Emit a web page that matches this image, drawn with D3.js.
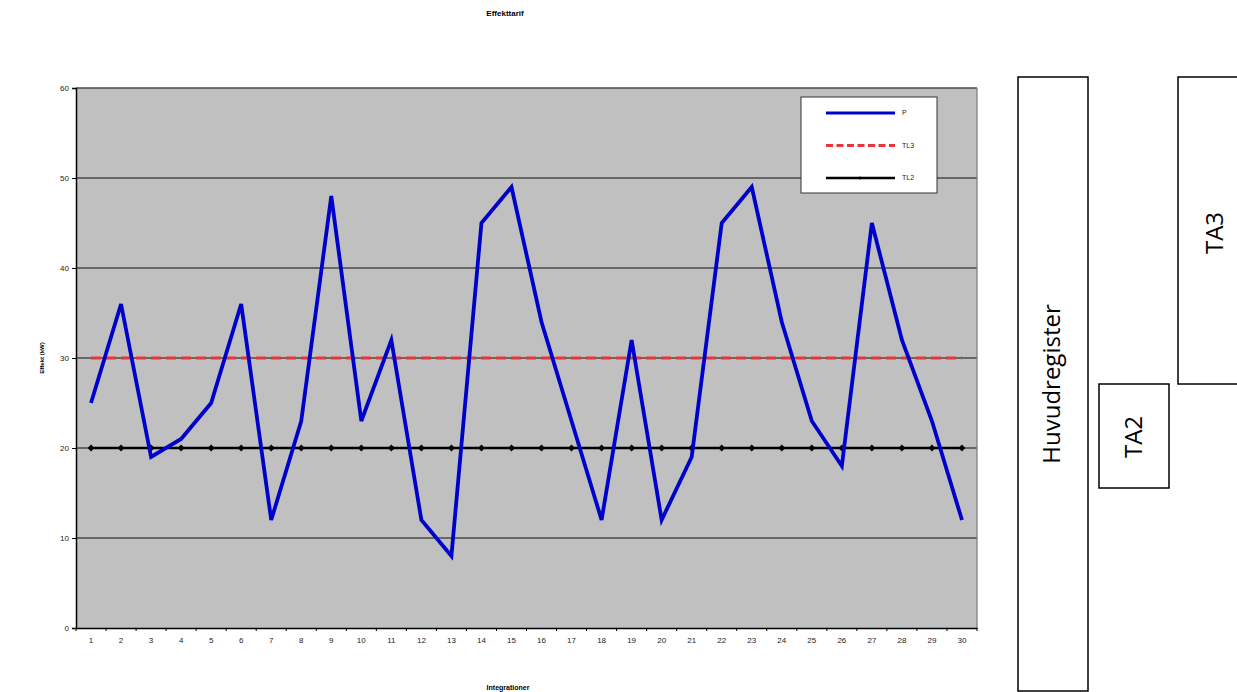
<!DOCTYPE html>
<html>
<head>
<meta charset="utf-8">
<script src="https://cdn.jsdelivr.net/npm/d3@7"></script>
<style>
  html, body { margin: 0; padding: 0; background: #fff; }
  svg { display: block; }
</style>
</head>
<body>
<svg id="chart" width="1237" height="692"></svg>
<script>
// Integration periods 1..30
const categories = ["1","2","3","4","5","6","7","8","9","10","11","12","13","14","15",
                    "16","17","18","19","20","21","22","23","24","25","26","27","28","29","30"];
// Measured power per period (kW)
const pValues   = [25,36,19,21,25,36,12,23,48,23,32,12,8,45,49,34,23,12,32,12,19,45,49,34,23,18,45,32,23,12];
// Tariff levels
const tl3Values = [30,30,30,30,30,30,30,30,30,30,30,30,30,30,30,30,30,30,30,30,30,30,30,30,30,30,30,30,30,30];
const tl2Values = [20,20,20,20,20,20,20,20,20,20,20,20,20,20,20,20,20,20,20,20,20,20,20,20,20,20,20,20,20,20];
const yTicks    = [0,10,20,30,40,50,60];
const seriesNames = ["P","TL3","TL2"];
const registerLabels = ["Huvudregister","TA2","TA3"];

const svg = d3.select("#chart");
const plot = { left: 76, right: 977, top: 88, bottom: 628 };

const x = d3.scaleBand().domain(categories).range([plot.left, plot.right]).padding(0);
const y = d3.scaleLinear().domain([0, 60]).range([plot.bottom, plot.top]);
const cx = d => x(d) + x.bandwidth() / 2;

// plot background
svg.append("rect")
  .attr("x", plot.left).attr("y", plot.top)
  .attr("width", plot.right - plot.left).attr("height", plot.bottom - plot.top)
  .attr("fill", "#c0c0c0");

// horizontal gridlines
svg.append("g").selectAll("line")
  .data(yTicks.filter(t => t > 0))
  .join("line")
  .attr("x1", plot.left).attr("x2", plot.right)
  .attr("y1", d => y(d)).attr("y2", d => y(d))
  .attr("stroke", "#4a4a4a").attr("stroke-width", 1.3);

// right border of plot area
svg.append("line")
  .attr("x1", plot.right).attr("x2", plot.right)
  .attr("y1", plot.top).attr("y2", plot.bottom)
  .attr("stroke", "#808080").attr("stroke-width", 1.3);

const fontAxis = "'Liberation Sans', Arial, sans-serif";

// y axis
const yAxis = svg.append("g")
  .attr("transform", `translate(${plot.left},0)`)
  .call(d3.axisLeft(y).tickValues(yTicks).tickSize(4).tickPadding(3));
yAxis.select(".domain").attr("stroke", "#000").attr("stroke-width", 1.5);
yAxis.selectAll(".tick line").attr("stroke", "#000");
yAxis.selectAll("text").attr("font-family", fontAxis).attr("font-size", 8).attr("fill", "#222");

// x axis with ticks on category boundaries
const xAxis = svg.append("g")
  .attr("transform", `translate(0,${plot.bottom})`)
  .call(d3.axisBottom(x).tickSize(0).tickPadding(9));
xAxis.select(".domain").attr("stroke", "#000").attr("stroke-width", 1.5);
xAxis.selectAll("text").attr("font-family", fontAxis).attr("font-size", 8).attr("fill", "#222");
svg.append("g").selectAll("line")
  .data(categories.concat(["end"]))
  .join("line")
  .attr("x1", (d, i) => plot.left + i * x.bandwidth())
  .attr("x2", (d, i) => plot.left + i * x.bandwidth())
  .attr("y1", plot.bottom).attr("y2", plot.bottom + 3)
  .attr("stroke", "#000").attr("stroke-width", 1);

// series lines
const line = vals => d3.line().x((d, i) => cx(categories[i])).y(d => y(d))(vals);

svg.append("path").attr("d", line(tl2Values))
  .attr("fill", "none").attr("stroke", "#000").attr("stroke-width", 2.5);
svg.append("g").selectAll("path")
  .data(tl2Values)
  .join("path")
  .attr("d", d3.symbol(d3.symbolDiamond2, 30))
  .attr("transform", (d, i) => `translate(${cx(categories[i])},${y(d)})`)
  .attr("fill", "#000");

svg.append("path").attr("d", line(tl3Values))
  .attr("fill", "none").attr("stroke", "#e6353b").attr("stroke-width", 3)
  .attr("stroke-dasharray", "10,5");

svg.append("path").attr("d", line(pValues))
  .attr("fill", "none").attr("stroke", "#0000cc").attr("stroke-width", 3.8)
  .attr("stroke-linejoin", "miter");

// legend
const legend = svg.append("g");
legend.append("rect")
  .attr("x", 801).attr("y", 97).attr("width", 136).attr("height", 96)
  .attr("fill", "#fff").attr("stroke", "#333").attr("stroke-width", 1);
const legendStyles = [
  { stroke: "#0000cc", width: 3, dash: null },
  { stroke: "#e6353b", width: 3, dash: "7,3.5" },
  { stroke: "#000", width: 2.5, dash: null }
];
seriesNames.forEach((name, i) => {
  const ly = 113 + i * 32.5;
  const s = legendStyles[i];
  legend.append("line")
    .attr("x1", 826).attr("x2", 895).attr("y1", ly).attr("y2", ly)
    .attr("stroke", s.stroke).attr("stroke-width", s.width)
    .attr("stroke-dasharray", s.dash);
  if (name === "TL2") {
    legend.append("path").attr("d", d3.symbol(d3.symbolDiamond2, 8))
      .attr("transform", `translate(860,${ly})`).attr("fill", "#000");
  }
  legend.append("text")
    .attr("x", 902).attr("y", ly).attr("dy", "0.35em")
    .attr("font-family", fontAxis).attr("font-size", 7).attr("fill", "#222")
    .text(name);
});

// titles
svg.append("text")
  .attr("x", 505).attr("y", 16).attr("text-anchor", "middle")
  .attr("font-family", fontAxis).attr("font-size", 8).attr("font-weight", "bold")
  .text("Effekttarif");
svg.append("text")
  .attr("x", 508).attr("y", 690).attr("text-anchor", "middle")
  .attr("font-family", fontAxis).attr("font-size", 7).attr("font-weight", "bold")
  .text("Integrationer");
svg.append("text")
  .attr("transform", `translate(44,${(plot.top + plot.bottom) / 2}) rotate(-90)`)
  .attr("text-anchor", "middle")
  .attr("font-family", fontAxis).attr("font-size", 6).attr("font-weight", "bold")
  .text("Effekt (kW)");

// register boxes
const boxes = [
  { label: registerLabels[0], x: 1018, y: 77, w: 70, h: 614 },
  { label: registerLabels[1], x: 1099, y: 384, w: 70, h: 104 },
  { label: registerLabels[2], x: 1178, y: 77, w: 70, h: 307 }
];
const textCenters = [[1052, 384], [1134, 437], [1215, 233]];
const boxG = svg.append("g");
boxes.forEach((b, i) => {
  boxG.append("rect")
    .attr("x", b.x).attr("y", b.y).attr("width", b.w).attr("height", b.h)
    .attr("fill", "#fff").attr("stroke", "#000").attr("stroke-width", 1.5);
  boxG.append("text")
    .attr("transform", `translate(${textCenters[i][0]},${textCenters[i][1]}) rotate(-90)`)
    .attr("text-anchor", "middle").attr("dy", "0.35em")
    .attr("font-family", "'Open Sans', sans-serif").attr("font-size", 24)
    .attr("fill", "#000")
    .text(b.label);
});
</script>
</body>
</html>
